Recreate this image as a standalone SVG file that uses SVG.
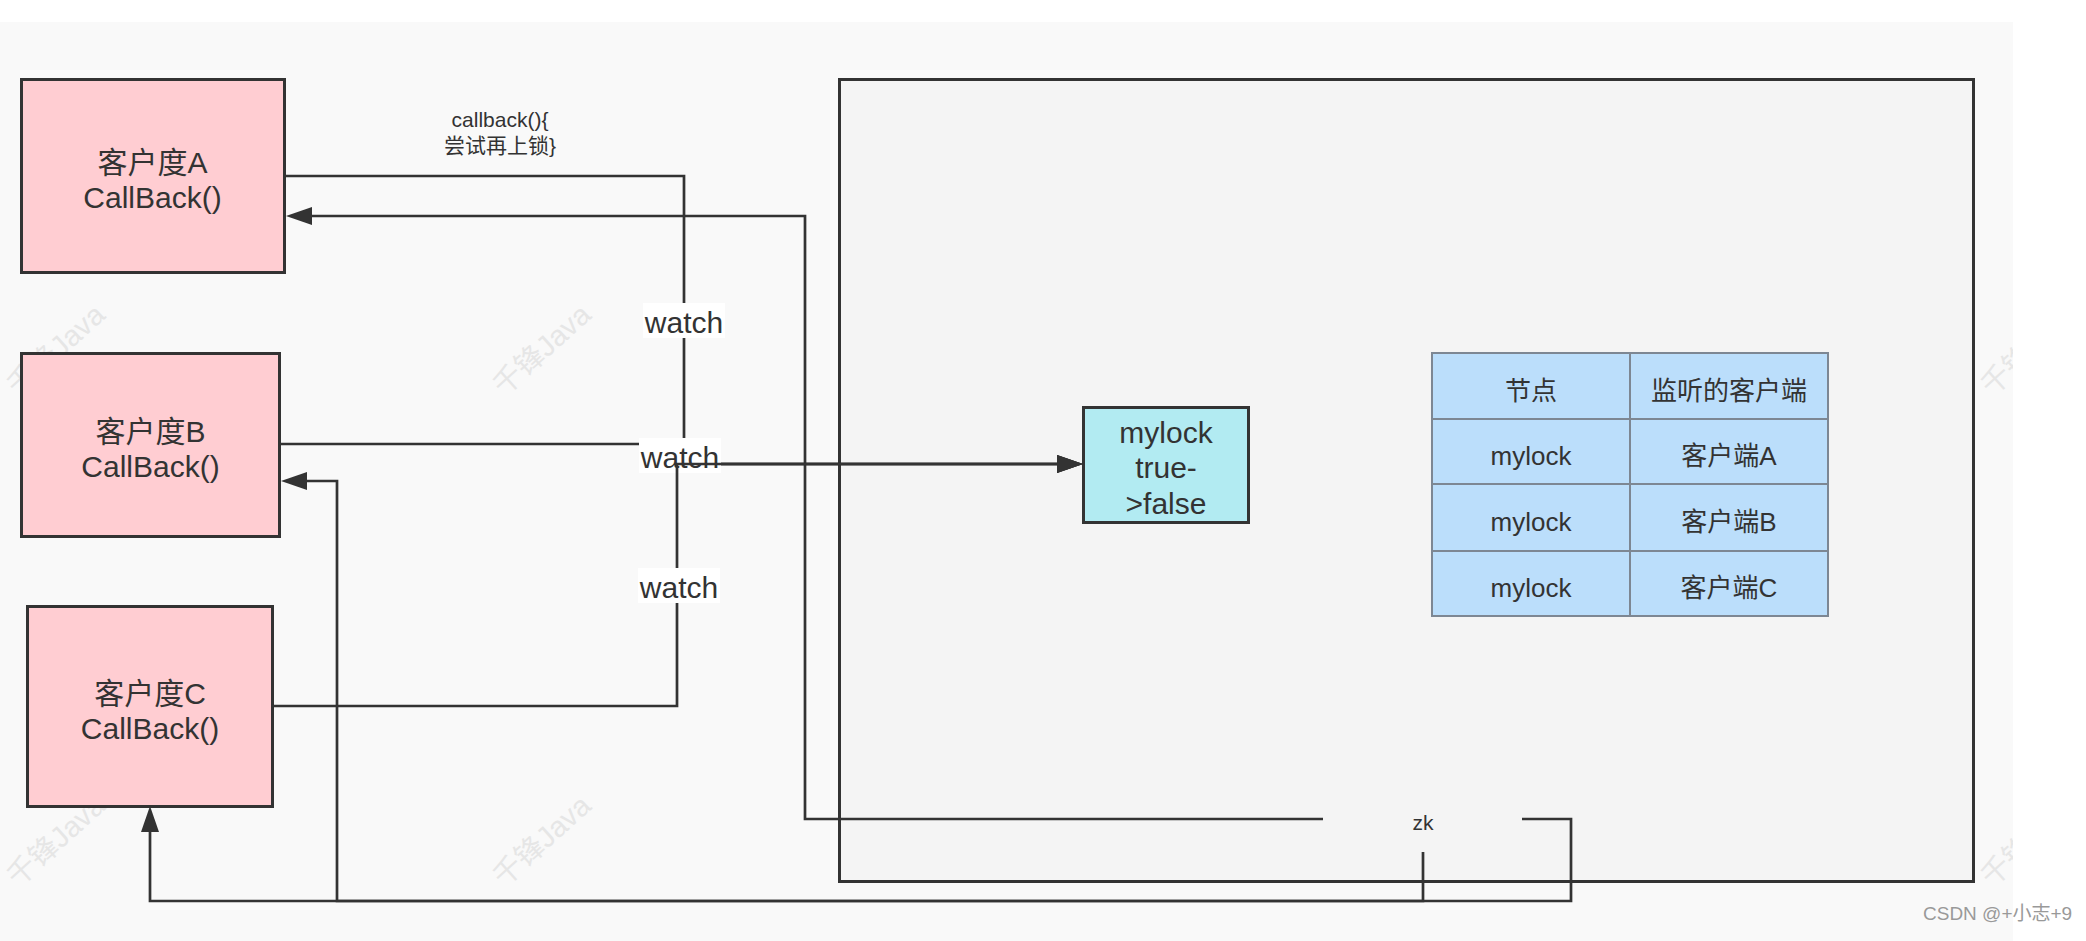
<svg xmlns="http://www.w3.org/2000/svg" width="2086" height="941" viewBox="0 0 2086 941">
  <defs>
    <style>
      text { font-family: "Liberation Sans", "Noto Sans CJK SC", sans-serif; fill: #333333; }
      .node { stroke: #333333; stroke-width: 3; }
      .client { fill: #ffcdd2; }
      .lock { fill: #b2ebf2; }
      .cell { fill: #bbdefb; stroke: #7d8793; stroke-width: 2; }
      .t30 { font-size: 30px; text-anchor: middle; }
      .t26 { font-size: 26px; text-anchor: middle; }
      .t21 { font-size: 21px; text-anchor: middle; }
      .edge { fill: none; stroke: #333333; stroke-width: 2.7; }
      .lblbg { fill: #ffffff; }
      .wm { font-size: 29px; fill: #e6e6e6; }
    </style>
    <marker id="arrow" markerUnits="userSpaceOnUse" markerWidth="27" markerHeight="19" refX="0" refY="9" orient="auto">
      <path d="M0,0 L26,9 L0,18 z" fill="#333333"/>
    </marker>
  </defs>

  <rect x="0" y="0" width="2086" height="941" fill="#ffffff"/>
  <rect x="0" y="22" width="2013" height="919" fill="#f9f9f9"/>

  <g id="watermarks">
    <text class="wm" transform="translate(18,397) rotate(-42)">千锋Java</text>
    <text class="wm" transform="translate(504,397) rotate(-42)">千锋Java</text>
    <text class="wm" transform="translate(1000,397) rotate(-42)">千锋Java</text>
    <text class="wm" transform="translate(1496,397) rotate(-42)">千锋Java</text>
    <text class="wm" transform="translate(1992,397) rotate(-42)">千锋Java</text>
    <text class="wm" transform="translate(18,888) rotate(-42)">千锋Java</text>
    <text class="wm" transform="translate(504,888) rotate(-42)">千锋Java</text>
    <text class="wm" transform="translate(1000,888) rotate(-42)">千锋Java</text>
    <text class="wm" transform="translate(1496,888) rotate(-42)">千锋Java</text>
    <text class="wm" transform="translate(1992,888) rotate(-42)">千锋Java</text>
  </g>
  <rect x="2013" y="22" width="73" height="919" fill="#ffffff"/>

  <g id="zk">
    <rect class="node" x="839.5" y="79.5" width="1134" height="802" fill="#f4f4f4"/>
    <text class="t21" x="1423" y="830">zk</text>
  </g>

  <g id="clientA">
    <rect class="node client" x="21.5" y="79.5" width="263" height="193"/>
    <text class="t30" x="152.5" y="173">客户度A</text>
    <text class="t30" x="152.5" y="208">CallBack()</text>
  </g>
  <g id="clientB">
    <rect class="node client" x="21.5" y="353.5" width="258" height="183"/>
    <text class="t30" x="150.5" y="442">客户度B</text>
    <text class="t30" x="150.5" y="477">CallBack()</text>
  </g>
  <g id="clientC">
    <rect class="node client" x="27.5" y="606.5" width="245" height="200"/>
    <text class="t30" x="150" y="704">客户度C</text>
    <text class="t30" x="150" y="739">CallBack()</text>
  </g>

  <g id="mylock">
    <rect class="node lock" x="1083.5" y="407.5" width="165" height="115"/>
    <text class="t30" x="1166" y="443">mylock</text>
    <text class="t30" x="1166" y="478">true-</text>
    <text class="t30" x="1166" y="514">&gt;false</text>
  </g>

  <g id="table">
    <rect class="cell" x="1432" y="353" width="198" height="66"/>
    <rect class="cell" x="1630" y="353" width="198" height="66"/>
    <rect class="cell" x="1432" y="419" width="198" height="65"/>
    <rect class="cell" x="1630" y="419" width="198" height="65"/>
    <rect class="cell" x="1432" y="484" width="198" height="67"/>
    <rect class="cell" x="1630" y="484" width="198" height="67"/>
    <rect class="cell" x="1432" y="551" width="198" height="65"/>
    <rect class="cell" x="1630" y="551" width="198" height="65"/>
    <text class="t26" x="1531" y="400">节点</text>
    <text class="t26" x="1729" y="400">监听的客户端</text>
    <text class="t26" x="1531" y="465">mylock</text>
    <text class="t26" x="1729" y="465">客户端A</text>
    <text class="t26" x="1531" y="531">mylock</text>
    <text class="t26" x="1729" y="531">客户端B</text>
    <text class="t26" x="1531" y="597">mylock</text>
    <text class="t26" x="1729" y="597">客户端C</text>
  </g>

  <g id="connectors">
    <!-- zk callbacks -->
    <path class="edge" d="M1323,819 H805 V216 H312" marker-end="url(#arrow)"/>
    <path class="edge" d="M1423,852 V901 H337 V481 H307" marker-end="url(#arrow)"/>
    <path class="edge" d="M1522,819 H1571 V901 H150 V832" marker-end="url(#arrow)"/>

    <!-- watch edges -->
    <path class="edge" d="M285,176 H684 V464 H1057" marker-end="url(#arrow)"/>
    <text class="t21" x="500" y="127">callback(){</text>
    <text class="t21" x="500" y="153">尝试再上锁}</text>
    <rect class="lblbg" x="643" y="303" width="82" height="35"/>
    <text class="t30" x="684" y="333">watch</text>

    <path class="edge" d="M280,444 H680 V464 H1057" marker-end="url(#arrow)"/>
    <rect class="lblbg" x="639" y="438" width="82" height="35"/>
    <text class="t30" x="680" y="468">watch</text>

    <path class="edge" d="M272,706 H677 V464 H1057" marker-end="url(#arrow)"/>
    <rect class="lblbg" x="638" y="568" width="82" height="35"/>
    <text class="t30" x="679" y="598">watch</text>
  </g>

  <text x="1923" y="920" font-size="19" style="fill:#999999">CSDN @+小志+9</text>
</svg>
